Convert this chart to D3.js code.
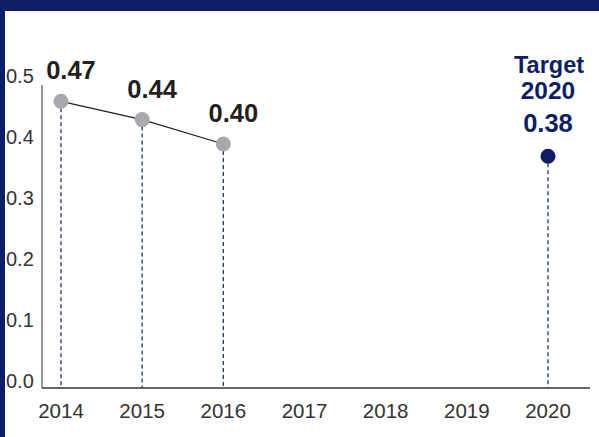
<!DOCTYPE html>
<html>
<head>
<meta charset="utf-8">
<script src="https://cdn.jsdelivr.net/npm/d3@7"></script>
<style>
  body { margin: 0; background: #fff; }
  svg { display: block; }
</style>
</head>
<body>
<script>
var years = ["2014", "2015", "2016", "2017", "2018", "2019", "2020"];
var actualYears = ["2014", "2015", "2016"];
var actualValues = [0.47, 0.44, 0.40];
var targetYear = "2020";
var targetValue = 0.38;
var yTicks = [0, 0.1, 0.2, 0.3, 0.4, 0.5];

var width = 599, height = 437;
var navy = "#0c1f66";
var font = "Liberation Sans, Arial, sans-serif";

var svg = d3.select("body").append("svg")
  .attr("width", width)
  .attr("height", height);

// frame
svg.append("rect").attr("x", 0).attr("y", 0).attr("width", width).attr("height", 11).attr("fill", navy);
svg.append("rect").attr("x", 0).attr("y", 0).attr("width", 5).attr("height", height).attr("fill", navy);

var x = d3.scalePoint().domain(years).range([61, 548]);
var y = d3.scaleLinear().domain([0, 0.5]).range([388, 83]);

// axes
svg.append("line")
  .attr("x1", 42).attr("x2", 42).attr("y1", 85).attr("y2", y(0))
  .attr("stroke", "#555").attr("stroke-width", 1.2);
svg.append("line")
  .attr("x1", 42).attr("x2", 590).attr("y1", y(0)).attr("y2", y(0))
  .attr("stroke", "#333").attr("stroke-width", 1.5);

svg.selectAll(".ytick")
  .data(yTicks)
  .enter().append("text")
  .attr("class", "ytick")
  .attr("x", 6)
  .attr("y", d => y(d))
  .attr("font-family", font)
  .attr("font-size", 20)
  .attr("fill", "#333")
  .text(d => d.toFixed(1));

svg.selectAll(".xtick")
  .data(years)
  .enter().append("text")
  .attr("class", "xtick")
  .attr("x", d => x(d))
  .attr("y", 418)
  .attr("text-anchor", "middle")
  .attr("font-family", font)
  .attr("font-size", 20.5)
  .attr("fill", "#333")
  .text(d => d);

var actual = actualYears.map((d, i) => ({ year: d, value: actualValues[i] }));

// dashed drop lines
var drops = actual.concat([{ year: targetYear, value: targetValue }]);
svg.selectAll(".drop")
  .data(drops)
  .enter().append("line")
  .attr("class", "drop")
  .attr("x1", d => x(d.year)).attr("x2", d => x(d.year))
  .attr("y1", d => y(d.value)).attr("y2", y(0))
  .attr("stroke", "#1f3178")
  .attr("stroke-width", 1.3)
  .attr("stroke-dasharray", "4,3");

var line = d3.line().x(d => x(d.year)).y(d => y(d.value));
svg.append("path")
  .datum(actual)
  .attr("d", line)
  .attr("fill", "none")
  .attr("stroke", "#231f20")
  .attr("stroke-width", 1.2);

svg.selectAll(".pt")
  .data(actual)
  .enter().append("circle")
  .attr("class", "pt")
  .attr("cx", d => x(d.year))
  .attr("cy", d => y(d.value))
  .attr("r", 7.5)
  .attr("fill", "#a7a9ac");

svg.selectAll(".lbl")
  .data(actual)
  .enter().append("text")
  .attr("class", "lbl")
  .attr("x", d => x(d.year) + 10)
  .attr("y", d => y(d.value) - 22)
  .attr("text-anchor", "middle")
  .attr("font-family", font)
  .attr("font-weight", "bold")
  .attr("font-size", 25.5)
  .attr("fill", "#231f20")
  .text(d => d.value.toFixed(2));

// target
var tx = x(targetYear);
svg.append("circle")
  .attr("cx", tx).attr("cy", y(targetValue))
  .attr("r", 7.5).attr("fill", navy);

var tText = svg.append("g")
  .attr("font-family", font)
  .attr("font-weight", "bold")
  .attr("fill", navy)
  .attr("text-anchor", "middle");
tText.append("text").attr("x", tx + 1).attr("y", 73).attr("font-size", 23.5).text("Target");
tText.append("text").attr("x", tx).attr("y", 99).attr("font-size", 24.5).text(targetYear);
tText.append("text").attr("x", tx).attr("y", 132).attr("font-size", 25.5).text(targetValue.toFixed(2));
</script>
</body>
</html>
